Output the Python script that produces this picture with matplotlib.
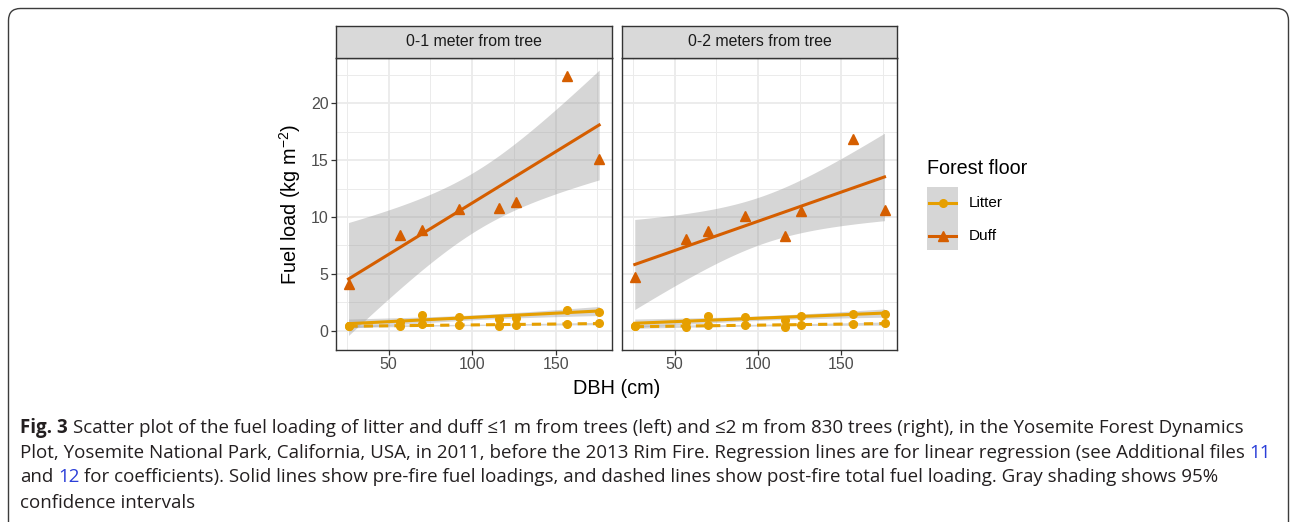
import numpy as np
import matplotlib.pyplot as plt
from matplotlib import font_manager
from matplotlib.patches import Rectangle, FancyBboxPatch

## --- Data ---
dbh = [26, 57, 70, 92, 116, 126, 157, 176]   # DBH [cm]

# 0-1 meter from tree
duff_1m = [4.1, 8.4, 8.9, 10.7, 10.8, 11.3, 22.4, 15.1]
litter_pre_1m = [0.44, 0.79, 1.38, 1.2, 1.05, 1.15, 1.8, 1.68]
litter_post_1m = [0.4, 0.42, 0.55, 0.5, 0.45, 0.5, 0.56, 0.72]

# 0-2 meters from tree
duff_2m = [4.75, 8.1, 8.8, 10.1, 8.3, 10.5, 16.9, 10.6]
litter_pre_2m = [0.41, 0.79, 1.32, 1.18, 0.95, 1.29, 1.5, 1.45]
litter_post_2m = [0.41, 0.36, 0.5, 0.5, 0.36, 0.5, 0.6, 0.72]

panel_titles = ["0-1 meter from tree", "0-2 meters from tree"]
x_ticks = [50, 100, 150]
y_ticks = [0, 5, 10, 15, 20]
legend_labels = ["Litter", "Duff"]

caption_lines = [
    "Scatter plot of the fuel loading of litter and duff \u22641 m from trees (left) and \u22642 m from 830 trees (right), in the Yosemite Forest Dynamics",
    "Plot, Yosemite National Park, California, USA, in 2011, before the 2013 Rim Fire. Regression lines are for linear regression (see Additional files ",
    "and 12 for coefficients). Solid lines show pre-fire fuel loadings, and dashed lines show post-fire total fuel loading. Gray shading shows 95%",
    "confidence intervals",
]

## --- Style ---
LITTER = "#E69F00"
DUFF = "#D55E00"
GRID = "#EBEBEB"
FRAME = "#333333"
LINK = "#2B3FD8"
T6 = 2.4469   # t quantile, 95 %, 6 d.o.f.

W, H = 1292, 522
installed = {f.name for f in font_manager.fontManager.ttflist}
chart_font = "Liberation Sans" if "Liberation Sans" in installed else "DejaVu Sans"
cap_font = chart_font
for cand in ["Liberation Sans Narrow", "DejaVu Sans Condensed", "Open Sans"]:
    if cand in installed:
        cap_font = cand
        break

plt.rcParams["font.family"] = [chart_font, "DejaVu Sans"]
plt.rcParams["mathtext.default"] = "regular"


def px(x0, y0, x1, y1):
    return [x0 / W, 1 - y1 / H, (x1 - x0) / W, (y1 - y0) / H]


def fit_band(x, y, xs):
    x = np.asarray(x, float)
    y = np.asarray(y, float)
    b, a = np.polyfit(x, y, 1)
    yhat = a + b * xs
    s = np.sqrt(np.sum((y - (a + b * x)) ** 2) / (len(x) - 2))
    se = s * np.sqrt(1 / len(x) + (xs - x.mean()) ** 2 / np.sum((x - x.mean()) ** 2))
    return yhat, yhat - T6 * se, yhat + T6 * se


fig = plt.figure(figsize=(W / 100, H / 100), dpi=100)

# overlay in pixel units for border, legend and caption
ov = fig.add_axes([0, 0, 1, 1])
ov.set_xlim(0, W)
ov.set_ylim(H, 0)
ov.axis("off")
ov.add_patch(FancyBboxPatch((8.5, 8.5), W - 12, H + 40, boxstyle="round,pad=0,rounding_size=12",
                            fc="white", ec="#3c3c3c", lw=1.0))

panels = [
    (px(336, 58, 611.7, 350), px(336, 26, 611.7, 58), duff_1m, litter_pre_1m, litter_post_1m),
    (px(622.3, 58, 897, 350), px(622.3, 26, 897, 58), duff_2m, litter_pre_2m, litter_post_2m),
]

xs = np.linspace(min(dbh), max(dbh), 100)
for i, (rect, srect, duff, lpre, lpost) in enumerate(panels):
    ax = fig.add_axes(rect)
    ax.set_xlim(18.5, 183.5)
    ax.set_ylim(-1.7, 24.0)
    ax.set_xticks(x_ticks)
    ax.set_xticks([25, 75, 125, 175], minor=True)
    ax.set_yticks(y_ticks)
    ax.set_yticks([2.5, 7.5, 12.5, 17.5, 22.5], minor=True)
    ax.grid(which="major", color=GRID, lw=1.3)
    ax.grid(which="minor", color=GRID, lw=0.7)
    ax.set_axisbelow(True)
    for sp in ax.spines.values():
        sp.set_color(FRAME)
        sp.set_linewidth(1.0)
    ax.tick_params(which="minor", length=0)
    ax.tick_params(which="major", length=3.3, width=0.9, color=FRAME, labelsize=11.5,
                   labelcolor="#4D4D4D", pad=2)
    if i == 0:
        ax.set_ylabel("Fuel load (kg m$^{-2}$)", fontsize=14.3, labelpad=6)
    else:
        ax.tick_params(axis="y", left=False, labelleft=False)

    for y, col, ls, mk, ms in [(duff, DUFF, "-", "^", 7.5),
                               (lpre, LITTER, "-", "o", 5.5),
                               (lpost, LITTER, (0, (3, 2)), "o", 5.5)]:
        yhat, lo, hi = fit_band(dbh, y, xs)
        ax.fill_between(xs, lo, hi, color="#999999", alpha=0.4, lw=0, zorder=2)
        ax.plot(xs, yhat, color=col, lw=2.2, ls=ls, zorder=3)
        ax.plot(dbh, y, ls="none", marker=mk, ms=ms, color=col, mec=col, zorder=4)

    sax = fig.add_axes(srect)
    sax.set_xticks([])
    sax.set_yticks([])
    sax.set_facecolor("#D9D9D9")
    for sp in sax.spines.values():
        sp.set_color(FRAME)
        sp.set_linewidth(1.0)
    sax.text(0.5, 0.5, panel_titles[i], ha="center", va="center", fontsize=11.4,
             color="#1A1A1A", transform=sax.transAxes)

fig.text(616.5 / W, 1 - 389 / H, "DBH (cm)", ha="center", va="center", fontsize=14.3)

# legend
ov.text(927, 169, "Forest floor", fontsize=14.2, va="center", ha="left")
ov.add_patch(Rectangle((927, 187), 31, 63, fc="#D6D6D6", ec="none"))
for yk, col, mk, ms, lab in [(203, LITTER, "o", 5.5, legend_labels[0]),
                             (236, DUFF, "^", 7.5, legend_labels[1])]:
    ov.plot([929, 956], [yk, yk], color=col, lw=2.2)
    ov.plot([942.5], [yk], marker=mk, ms=ms, color=col)
    ov.text(969, yk, lab, fontsize=11, va="center", ha="left")

# caption
r = fig.canvas.get_renderer()


def width(s, size, weight="normal"):
    t = ov.text(0, 0, s, fontsize=size, fontweight=weight, family=[cap_font, "DejaVu Sans"])
    w = t.get_window_extent(r).width
    t.remove()
    return w


x0 = 20
size = min(10 * 1255 / width("Fig. 3 " + caption_lines[0], 10),
           10 * 1252 / width(caption_lines[1] + "11", 10))
cap_kw = dict(fontsize=size, va="center", ha="left", family=[cap_font, "DejaVu Sans"], color="#231F20")
ys = [428, 452.5, 477.5, 503]

wb = width("Fig. 3", size, "bold")
sp = width("a a", size) - width("aa", size)
ov.text(x0, ys[0], "Fig. 3", fontweight="bold", **cap_kw)
ov.text(x0 + wb + sp, ys[0], caption_lines[0], **cap_kw)

ov.text(x0, ys[1], caption_lines[1], **cap_kw)
w2 = width(caption_lines[1] + "11", size)
ov.text(x0 + w2 - width("11", size), ys[1], "11", **{**cap_kw, "color": LINK})

ov.text(x0, ys[2], "and", **cap_kw)
ov.text(x0 + width("and 12", size) - width("12", size), ys[2], "12", **{**cap_kw, "color": LINK})
rest = caption_lines[2][len("and 12"):].lstrip()
ov.text(x0 + width(caption_lines[2], size) - width(rest, size), ys[2], rest, **cap_kw)

ov.text(x0, ys[3], caption_lines[3], **cap_kw)

fig.savefig("out.png", dpi=100)
